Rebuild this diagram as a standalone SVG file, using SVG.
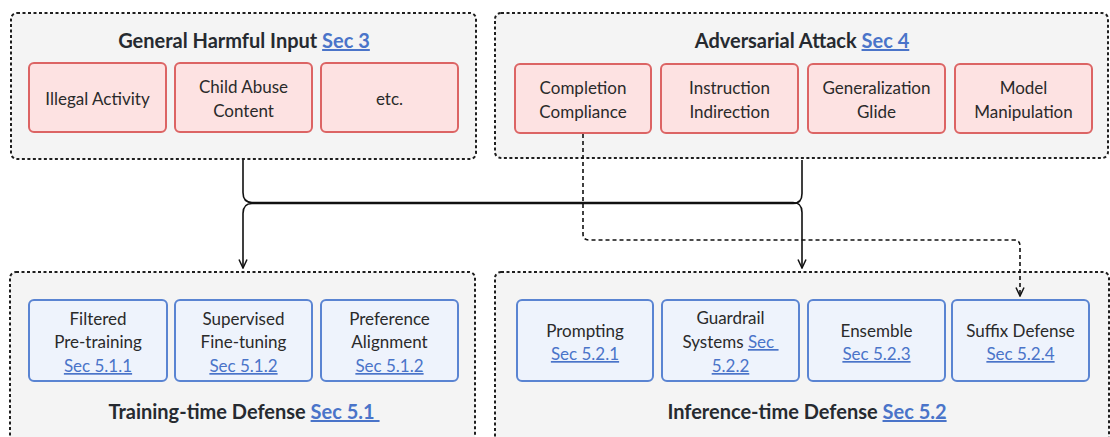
<svg xmlns="http://www.w3.org/2000/svg" width="1110" height="437" viewBox="0 0 1110 437">
<defs>
<style>
.outer{fill:#f4f4f4;stroke:#1e1e1e;stroke-width:2;stroke-dasharray:3 2.5}
.red{fill:#fde2e2;stroke:#dc6464;stroke-width:2}
.blue{fill:#eef3fc;stroke:#5a84d2;stroke-width:2}
text{font-family:"Lato","Liberation Sans",sans-serif;fill:#2a2a2a;text-anchor:middle}
.t{font-size:17px}
.h{font-size:20px;font-weight:bold;fill:#262a30}
.lk{fill:#4a74c9;text-decoration:underline}
.c{fill:none;stroke:#111;stroke-width:1.6}
.d{fill:none;stroke:#111;stroke-width:1.6;stroke-dasharray:4 3}
</style>
<marker id="ah" viewBox="0 0 10 10" refX="9.5" refY="5" markerWidth="10" markerHeight="10" markerUnits="userSpaceOnUse" orient="auto">
<path d="M1,1 L9.5,5 L1,9" fill="none" stroke="#111" stroke-width="1.5"/>
</marker>
</defs>

<g id="general-harmful-input">
<rect class="outer" x="11" y="13" width="465" height="146" rx="6"/>
<text class="h" x="244" y="48">General Harmful Input <tspan class="lk">Sec 3</tspan></text>
</g>
<g id="illegal-activity"><rect class="red" x="29" y="63" width="137" height="69" rx="5"/><text class="t" x="97.5" y="105">Illegal Activity</text></g>
<g id="child-abuse"><rect class="red" x="175" y="63" width="137" height="69" rx="5"/><text class="t" x="243.5" y="93">Child Abuse</text><text class="t" x="243.5" y="117">Content</text></g>
<g id="etc"><rect class="red" x="321" y="63" width="137" height="69" rx="5"/><text class="t" x="389.5" y="105">etc.</text></g>

<g id="adversarial-attack">
<rect class="outer" x="495" y="13" width="613" height="145" rx="6"/>
<text class="h" x="802" y="48">Adversarial Attack <tspan class="lk">Sec 4</tspan></text>
</g>
<g id="completion-compliance"><rect class="red" x="515" y="64" width="136" height="69" rx="5"/><text class="t" x="583" y="94">Completion</text><text class="t" x="583" y="118">Compliance</text></g>
<g id="instruction-indirection"><rect class="red" x="661" y="64" width="137" height="69" rx="5"/><text class="t" x="729.5" y="94">Instruction</text><text class="t" x="729.5" y="118">Indirection</text></g>
<g id="generalization-glide"><rect class="red" x="808" y="64" width="137" height="69" rx="5"/><text class="t" x="876.5" y="94">Generalization</text><text class="t" x="876.5" y="118">Glide</text></g>
<g id="model-manipulation"><rect class="red" x="955" y="64" width="137" height="69" rx="5"/><text class="t" x="1023.5" y="94">Model</text><text class="t" x="1023.5" y="118">Manipulation</text></g>

<g id="training-time-defense">
<rect class="outer" x="10" y="272" width="465" height="185" rx="6"/>
<text class="h" x="244" y="419">Training-time Defense <tspan class="lk">Sec 5.1&#160;</tspan></text>
</g>
<g id="filtered-pretraining"><rect class="blue" x="29" y="300" width="138" height="81" rx="5"/><text class="t" x="98" y="325">Filtered</text><text class="t" x="98" y="348">Pre-training</text><text class="t lk" x="98" y="372">Sec 5.1.1</text></g>
<g id="supervised-finetuning"><rect class="blue" x="175" y="300" width="137" height="81" rx="5"/><text class="t" x="243.5" y="325">Supervised</text><text class="t" x="243.5" y="348">Fine-tuning</text><text class="t lk" x="243.5" y="372">Sec 5.1.2</text></g>
<g id="preference-alignment"><rect class="blue" x="321" y="300" width="137" height="81" rx="5"/><text class="t" x="389.5" y="325">Preference</text><text class="t" x="389.5" y="348">Alignment</text><text class="t lk" x="389.5" y="372">Sec 5.1.2</text></g>

<g id="inference-time-defense">
<rect class="outer" x="495" y="272" width="614" height="185" rx="6"/>
<text class="h" x="807" y="419">Inference-time Defense <tspan class="lk">Sec 5.2</tspan></text>
</g>
<g id="prompting"><rect class="blue" x="517" y="300" width="136" height="81" rx="5"/><text class="t" x="585" y="337">Prompting</text><text class="t lk" x="585" y="360">Sec 5.2.1</text></g>
<g id="guardrail-systems"><rect class="blue" x="662" y="300" width="137" height="81" rx="5"/><text class="t" x="730.5" y="324">Guardrail</text><text class="t" x="730.5" y="348">Systems <tspan class="lk">Sec&#160;</tspan></text><text class="t lk" x="730.5" y="372">5.2.2</text></g>
<g id="ensemble"><rect class="blue" x="808" y="300" width="137" height="81" rx="5"/><text class="t" x="876.5" y="337">Ensemble</text><text class="t lk" x="876.5" y="360">Sec 5.2.3</text></g>
<g id="suffix-defense"><rect class="blue" x="952" y="300" width="137" height="81" rx="5"/><text class="t" x="1020.5" y="337">Suffix Defense</text><text class="t lk" x="1020.5" y="360">Sec 5.2.4</text></g>

<g id="connectors">
<path class="c" d="M243,160 V192.5 Q243,202.5 252,202.5 H793 Q802,202.5 802,212.5 V268" marker-end="url(#ah)"/>
<path class="c" d="M802,160 V193.5 Q802,203.5 793,203.5 H252 Q243,203.5 243,213.5 V268" marker-end="url(#ah)"/>
<path class="d" d="M583,134 V234 Q583,240 589,240 H1014 Q1020,240 1020,246 V296" marker-end="url(#ah)"/>
</g>
</svg>
